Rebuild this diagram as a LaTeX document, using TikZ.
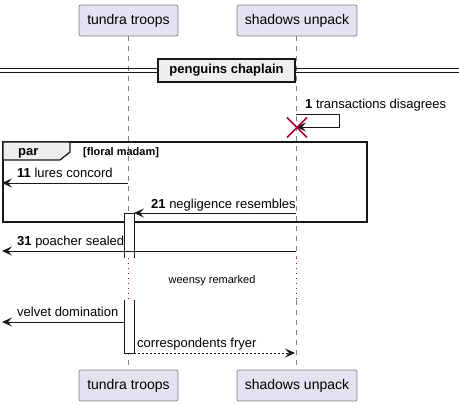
\documentclass[tikz,border=0pt]{standalone}
\usepackage{fontspec}
\setmainfont{Liberation Sans}
\usetikzlibrary{arrows.meta}
\definecolor{partfill}{HTML}{E2E2F0}
\definecolor{partline}{HTML}{808080}
\definecolor{crim}{HTML}{A80036}
\definecolor{grpfill}{HTML}{EEEEEE}
\definecolor{ink}{HTML}{181818}
\begin{document}
\begin{tikzpicture}[x=1pt,y=-1pt,
  part/.style={draw=partline,fill=partfill,rounded corners=2pt,line width=0.7pt,
    minimum height=31pt,inner sep=0pt,font=\fontsize{14}{16}\selectfont},
  life/.style={draw=partline,line width=0.6pt,dash pattern=on 5pt off 5pt},
  delayline/.style={draw=crim,line width=0.9pt,dash pattern=on 1pt off 4pt},
  msg/.style={draw=ink,line width=0.9pt,-{Stealth[length=10pt,width=9pt,inset=4pt]}},
  dmsg/.style={msg,dash pattern=on 2pt off 2pt},
  lbl/.style={anchor=base west,inner sep=0pt,font=\fontsize{13}{15}\selectfont},
  actbar/.style={draw=ink,fill=white,line width=0.9pt}
]
\useasboundingbox (0,0) rectangle (459,406);

% participants
\node[part,minimum width=99pt] (ttop) at (128.5,20.5) {tundra troops};
\node[part,minimum width=120pt] (stop) at (297,20.5) {shadows unpack};
\node[part,minimum width=99pt] (tbot) at (128.5,385.5) {tundra troops};
\node[part,minimum width=120pt] (sbot) at (297,385.5) {shadows unpack};

% lifeline coordinates
\coordinate (tdA) at (128,258);
\coordinate (tdB) at (128,300);
\coordinate (sdA) at (296,258);
\coordinate (sdB) at (296,300);
\draw[life] (ttop.south -| tdA) -- (tdA);
\draw[delayline] (tdA) -- (tdB);
\draw[life] (tdB) -- (tbot.north -| tdB);
\draw[life] (stop.south -| sdA) -- (sdA);
\draw[delayline] (sdA) -- (sdB);
\draw[life] (sdB) -- (sbot.north -| sdB);

% divider
\draw[ink,line width=0.9pt] (0,68) -- (459,68);
\draw[ink,line width=0.9pt] (0,72) -- (459,72);
\node[draw=ink,fill=grpfill,line width=1.5pt,minimum width=137pt,minimum height=23pt,inner sep=0pt,
  font=\bfseries\fontsize{13}{15}\selectfont] (div) at (226.5,70.5) {penguins chaplain};

% self message 1
\coordinate (s1a) at (296,114);
\coordinate (s1b) at (339,114);
\coordinate (s1c) at (339,127);
\coordinate (s1d) at (296,127);
\draw[msg] (s1a) -- (s1b) -- (s1c) -- (s1d);
\node[lbl] (l1) at (305,109) {\textbf{1} transactions disagrees};
\draw[crim,line width=1.5pt] (287,117.5) -- (307,137.5) (287,137.5) -- (307,117.5);

% par frame
\draw[ink,line width=1.5pt] (3,142) rectangle (367,222);
\draw[ink,fill=grpfill,line width=1.2pt] (3,142) -- (70,142) -- (70,152) -- (60,160) -- (3,160) -- cycle;
\node[anchor=base west,inner sep=0pt,font=\bfseries\fontsize{13}{15}\selectfont] (partag) at (18,156) {par};
\node[anchor=base west,inner sep=0pt,font=\bfseries\fontsize{11}{13}\selectfont] (parcond) at (83,156) {[floral madam]};

% message 11
\coordinate (m11a) at (128,183);
\coordinate (m11b) at (2,183);
\draw[msg] (m11a) -- (m11b);
\node[lbl] (l11) at (17,177.5) {\textbf{11} lures concord};

% activation bars
\draw[actbar] (124,258) -- (124,213) -- (134,213) -- (134,258);
\draw[actbar] (124,300) -- (124,353) -- (134,353) -- (134,300);

% message 21
\coordinate (m21a) at (296,213);
\coordinate (m21b) at (134,213);
\draw[msg] (m21a) -- (m21b);
\node[lbl] (l21) at (151,208.5) {\textbf{21} negligence resembles};

% message 31
\coordinate (m31a) at (296,251);
\coordinate (m31b) at (2,251);
\draw[msg] (m31a) -- (m31b);
\node[lbl] (l31) at (17,246) {\textbf{31} poacher sealed};

% delay text
\node[anchor=base,inner sep=0pt,font=\fontsize{11}{13}\selectfont] (delay) at (212,283.5) {weensy remarked};

% velvet domination
\coordinate (mva) at (124,322);
\coordinate (mvb) at (2,322);
\draw[msg] (mva) -- (mvb);
\node[lbl] (lv) at (17,317) {velvet domination};

% correspondents fryer
\coordinate (mca) at (134,353);
\coordinate (mcb) at (295,353);
\draw[dmsg] (mca) -- (mcb);
\node[lbl] (lc) at (137,348) {correspondents fryer};
\end{tikzpicture}
\end{document}
